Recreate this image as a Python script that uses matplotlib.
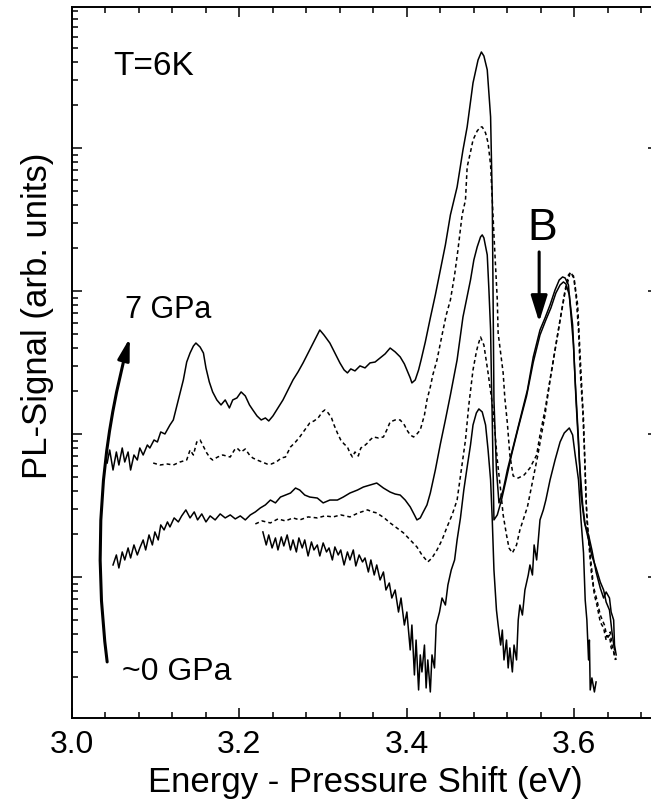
import numpy as np
import matplotlib
matplotlib.use('Agg')
import matplotlib.pyplot as plt
from matplotlib.ticker import MultipleLocator, NullFormatter, FormatStrFormatter, LogLocator

plt.rcParams['font.family'] = ['Liberation Sans', 'DejaVu Sans']

# PL spectra: energy (eV) and log10 of the PL signal (arb. units)
# trace a = 7 GPa (top, solid) ... trace e = ~0 GPa (bottom, solid)
energy_a = [3.042, 3.045, 3.049, 3.053, 3.056, 3.060, 3.063, 3.067, 3.070, 3.074,
            3.078, 3.081, 3.085, 3.090, 3.093, 3.098, 3.102, 3.106, 3.111, 3.117,
            3.121, 3.127, 3.133, 3.137, 3.141, 3.145, 3.148, 3.153, 3.157, 3.160,
            3.164, 3.168, 3.173, 3.178, 3.183, 3.188, 3.192, 3.197, 3.202, 3.207,
            3.212, 3.216, 3.221, 3.226, 3.231, 3.235, 3.240, 3.246, 3.252, 3.258,
            3.264, 3.270, 3.276, 3.282, 3.288, 3.293, 3.296, 3.301, 3.308, 3.314,
            3.320, 3.325, 3.329, 3.333, 3.338, 3.344, 3.350, 3.356, 3.362, 3.368,
            3.374, 3.380, 3.386, 3.392, 3.397, 3.400, 3.404, 3.406, 3.410, 3.414,
            3.417, 3.422, 3.428, 3.434, 3.440, 3.446, 3.452, 3.460, 3.467, 3.472,
            3.479, 3.485, 3.489, 3.492, 3.496, 3.500, 3.502, 3.503, 3.504, 3.507,
            3.510, 3.515, 3.520, 3.526, 3.535, 3.544, 3.551, 3.559, 3.565, 3.571,
            3.577, 3.582, 3.586, 3.589, 3.593, 3.595, 3.599, 3.602, 3.606, 3.610,
            3.613, 3.617, 3.621, 3.626, 3.631, 3.635, 3.638, 3.642, 3.644, 3.647,
            3.648, 3.650]
log_pl_a = [1.797, 1.888, 1.748, 1.874, 1.783, 1.902, 1.804, 1.874, 1.748, 1.853,
            1.818, 1.902, 1.853, 1.923, 1.902, 1.958, 1.944, 2.014, 2.000, 2.063,
            2.098, 2.238, 2.378, 2.503, 2.566, 2.615, 2.636, 2.608, 2.566, 2.462,
            2.364, 2.294, 2.238, 2.203, 2.238, 2.182, 2.238, 2.252, 2.294, 2.266,
            2.203, 2.168, 2.126, 2.098, 2.112, 2.091, 2.126, 2.182, 2.238, 2.308,
            2.378, 2.434, 2.497, 2.566, 2.636, 2.692, 2.727, 2.692, 2.636, 2.566,
            2.497, 2.448, 2.427, 2.455, 2.441, 2.476, 2.462, 2.497, 2.503, 2.532,
            2.560, 2.601, 2.574, 2.539, 2.490, 2.448, 2.392, 2.357, 2.378, 2.448,
            2.518, 2.643, 2.811, 2.972, 3.147, 3.322, 3.532, 3.727, 3.986, 4.147,
            4.455, 4.615, 4.671, 4.643, 4.546, 4.217, 3.636, 2.937, 2.238, 1.748,
            1.518, 1.608, 1.748, 1.888, 2.098, 2.308, 2.539, 2.727, 2.811, 2.902,
            3.007, 3.077, 3.098, 3.091, 3.042, 2.902, 2.622, 2.238, 1.818, 1.503,
            1.364, 1.294, 1.189, 1.035, 0.923, 0.853, 0.895, 0.853, 0.755, 0.699,
            0.524, 0.455]

energy_b = [3.097, 3.105, 3.114, 3.121, 3.129, 3.137, 3.141, 3.145, 3.149, 3.153,
            3.158, 3.161, 3.165, 3.168, 3.174, 3.180, 3.189, 3.194, 3.197, 3.202,
            3.207, 3.212, 3.216, 3.221, 3.227, 3.233, 3.238, 3.244, 3.250, 3.255,
            3.261, 3.267, 3.272, 3.278, 3.284, 3.289, 3.294, 3.299, 3.302, 3.306,
            3.310, 3.313, 3.317, 3.321, 3.325, 3.329, 3.332, 3.335, 3.338, 3.342,
            3.345, 3.349, 3.353, 3.356, 3.360, 3.366, 3.372, 3.376, 3.380, 3.386,
            3.392, 3.397, 3.400, 3.404, 3.408, 3.412, 3.416, 3.421, 3.424, 3.428,
            3.431, 3.436, 3.442, 3.447, 3.452, 3.457, 3.461, 3.466, 3.470, 3.472,
            3.476, 3.479, 3.484, 3.488, 3.490, 3.494, 3.497, 3.500, 3.502, 3.504,
            3.506, 3.508, 3.509, 3.512, 3.515, 3.517, 3.520, 3.523, 3.527, 3.533,
            3.540, 3.547, 3.555, 3.559, 3.565, 3.571, 3.577, 3.583, 3.589, 3.593,
            3.596, 3.600, 3.604, 3.606, 3.608, 3.611, 3.613, 3.615, 3.619, 3.623,
            3.627, 3.631, 3.636, 3.639, 3.643, 3.645, 3.648, 3.650]
log_pl_b = [1.797, 1.783, 1.790, 1.783, 1.804, 1.818, 1.888, 1.853, 1.944, 1.958,
            1.902, 1.867, 1.832, 1.818, 1.839, 1.853, 1.839, 1.888, 1.902, 1.874,
            1.895, 1.853, 1.832, 1.818, 1.804, 1.790, 1.790, 1.804, 1.832, 1.839,
            1.909, 1.944, 1.979, 2.028, 2.077, 2.091, 2.112, 2.154, 2.168, 2.147,
            2.112, 2.063, 2.007, 1.958, 1.930, 1.909, 1.867, 1.839, 1.874, 1.846,
            1.902, 1.916, 1.937, 1.958, 1.979, 1.972, 1.979, 2.028, 2.084, 2.098,
            2.098, 2.063, 2.028, 1.993, 1.979, 2.000, 2.028, 2.133, 2.238, 2.329,
            2.413, 2.518, 2.692, 2.832, 2.937, 3.112, 3.287, 3.532, 3.636, 3.867,
            3.972, 4.056, 4.119, 4.147, 4.147, 4.105, 4.035, 3.881, 3.636, 3.392,
            3.168, 2.937, 2.706, 2.566, 2.427, 2.252, 2.077, 1.853, 1.706, 1.692,
            1.713, 1.762, 1.853, 1.993, 2.168, 2.378, 2.587, 2.797, 3.007, 3.112,
            3.133, 3.077, 2.902, 2.657, 2.427, 2.098, 1.748, 1.399, 1.154, 0.930,
            0.839, 0.734, 0.664, 0.580, 0.615, 0.524, 0.455, 0.420]

energy_c = [3.049, 3.053, 3.056, 3.060, 3.063, 3.067, 3.070, 3.074, 3.078, 3.081,
            3.085, 3.088, 3.092, 3.096, 3.099, 3.103, 3.106, 3.110, 3.114, 3.117,
            3.122, 3.127, 3.131, 3.136, 3.141, 3.146, 3.150, 3.155, 3.160, 3.165,
            3.171, 3.177, 3.183, 3.189, 3.195, 3.201, 3.207, 3.213, 3.219, 3.225,
            3.231, 3.237, 3.243, 3.249, 3.255, 3.261, 3.267, 3.272, 3.278, 3.284,
            3.293, 3.300, 3.308, 3.317, 3.324, 3.332, 3.341, 3.348, 3.356, 3.364,
            3.372, 3.380, 3.386, 3.392, 3.398, 3.404, 3.409, 3.412, 3.416, 3.419,
            3.424, 3.428, 3.434, 3.440, 3.446, 3.452, 3.460, 3.467, 3.476, 3.480,
            3.484, 3.488, 3.490, 3.492, 3.496, 3.498, 3.500, 3.501, 3.502, 3.503,
            3.504, 3.508, 3.513, 3.519, 3.525, 3.533, 3.543, 3.551, 3.559, 3.566,
            3.572, 3.578, 3.583, 3.587, 3.590, 3.594, 3.598, 3.601, 3.605, 3.608,
            3.612, 3.617, 3.621, 3.626, 3.631, 3.635, 3.638, 3.642, 3.645, 3.648]
log_pl_c = [1.084, 1.154, 1.063, 1.175, 1.119, 1.203, 1.133, 1.224, 1.154, 1.203,
            1.259, 1.189, 1.294, 1.224, 1.315, 1.259, 1.364, 1.329, 1.385, 1.350,
            1.413, 1.385, 1.427, 1.469, 1.413, 1.455, 1.399, 1.441, 1.385, 1.427,
            1.399, 1.441, 1.413, 1.434, 1.406, 1.427, 1.399, 1.434, 1.455, 1.483,
            1.504, 1.538, 1.518, 1.559, 1.573, 1.587, 1.622, 1.608, 1.573, 1.559,
            1.552, 1.518, 1.538, 1.538, 1.559, 1.587, 1.608, 1.629, 1.643, 1.657,
            1.622, 1.594, 1.580, 1.573, 1.538, 1.490, 1.434, 1.399, 1.413, 1.448,
            1.504, 1.587, 1.748, 1.930, 2.098, 2.273, 2.518, 2.818, 3.077, 3.217,
            3.308, 3.378, 3.392, 3.371, 3.252, 3.007, 2.727, 2.378, 2.098, 1.748,
            1.399, 1.434, 1.538, 1.692, 1.853, 2.042, 2.266, 2.503, 2.692, 2.797,
            2.881, 2.986, 3.042, 3.063, 3.049, 2.972, 2.762, 2.378, 1.958, 1.573,
            1.385, 1.259, 1.147, 1.063, 0.965, 0.909, 0.825, 0.769, 0.615, 0.490]

energy_d = [3.219, 3.227, 3.237, 3.246, 3.255, 3.264, 3.272, 3.282, 3.293, 3.302,
            3.312, 3.321, 3.332, 3.342, 3.353, 3.359, 3.364, 3.373, 3.380, 3.388,
            3.396, 3.404, 3.412, 3.418, 3.425, 3.430, 3.436, 3.442, 3.448, 3.454,
            3.460, 3.465, 3.470, 3.474, 3.479, 3.483, 3.485, 3.488, 3.492, 3.497,
            3.503, 3.508, 3.512, 3.515, 3.519, 3.522, 3.526, 3.531, 3.535, 3.544,
            3.556, 3.565, 3.571, 3.577, 3.583, 3.589, 3.595, 3.599, 3.602, 3.605,
            3.607, 3.610, 3.612, 3.614, 3.617, 3.620, 3.624, 3.627, 3.631, 3.635,
            3.638, 3.642, 3.644, 3.647, 3.649]
log_pl_d = [1.371, 1.392, 1.378, 1.406, 1.392, 1.413, 1.399, 1.420, 1.413, 1.427,
            1.420, 1.434, 1.420, 1.448, 1.469, 1.455, 1.448, 1.413, 1.378, 1.343,
            1.308, 1.259, 1.210, 1.154, 1.105, 1.133, 1.189, 1.259, 1.350, 1.434,
            1.538, 1.748, 1.958, 2.203, 2.448, 2.574, 2.622, 2.678, 2.622, 2.427,
            2.168, 1.818, 1.608, 1.434, 1.294, 1.203, 1.168, 1.224, 1.329, 1.490,
            1.839, 2.133, 2.378, 2.587, 2.797, 2.993, 3.126, 3.105, 2.972, 2.727,
            2.448, 2.168, 1.888, 1.538, 1.259, 1.049, 0.874, 0.804, 0.685, 0.643,
            0.559, 0.594, 0.504, 0.476, 0.420]

energy_e = [3.228, 3.232, 3.235, 3.239, 3.243, 3.246, 3.250, 3.253, 3.257, 3.261,
            3.264, 3.268, 3.271, 3.275, 3.278, 3.282, 3.286, 3.289, 3.293, 3.296,
            3.300, 3.304, 3.307, 3.311, 3.314, 3.318, 3.321, 3.325, 3.329, 3.332,
            3.336, 3.339, 3.343, 3.347, 3.350, 3.354, 3.357, 3.361, 3.364, 3.368,
            3.372, 3.375, 3.379, 3.382, 3.386, 3.390, 3.393, 3.397, 3.400, 3.404,
            3.406, 3.409, 3.411, 3.414, 3.416, 3.418, 3.421, 3.423, 3.425, 3.428,
            3.430, 3.433, 3.435, 3.439, 3.442, 3.446, 3.449, 3.453, 3.457, 3.460,
            3.464, 3.468, 3.472, 3.476, 3.479, 3.483, 3.486, 3.490, 3.494, 3.497,
            3.500, 3.502, 3.504, 3.507, 3.509, 3.512, 3.514, 3.516, 3.519, 3.521,
            3.523, 3.526, 3.528, 3.531, 3.533, 3.535, 3.538, 3.541, 3.545, 3.547,
            3.550, 3.552, 3.555, 3.557, 3.559, 3.563, 3.566, 3.571, 3.577, 3.583,
            3.588, 3.594, 3.598, 3.601, 3.605, 3.608, 3.611, 3.613, 3.615, 3.617,
            3.618, 3.619, 3.621, 3.624, 3.626]
log_pl_e = [1.315, 1.224, 1.294, 1.203, 1.273, 1.189, 1.280, 1.217, 1.294, 1.189,
            1.259, 1.175, 1.273, 1.203, 1.259, 1.147, 1.245, 1.189, 1.224, 1.147,
            1.238, 1.175, 1.203, 1.119, 1.210, 1.154, 1.189, 1.084, 1.175, 1.119,
            1.189, 1.077, 1.154, 1.105, 1.133, 1.035, 1.119, 1.014, 1.084, 0.979,
            1.035, 0.909, 0.958, 0.853, 0.909, 0.755, 0.853, 0.664, 0.755, 0.490,
            0.664, 0.315, 0.559, 0.210, 0.455, 0.336, 0.524, 0.224, 0.420, 0.196,
            0.455, 0.364, 0.664, 0.755, 0.853, 0.804, 0.944, 1.049, 1.119, 1.259,
            1.413, 1.608, 1.769, 1.923, 2.063, 2.147, 2.175, 2.154, 2.063, 1.888,
            1.678, 1.399, 1.049, 0.769, 0.664, 0.524, 0.629, 0.420, 0.559, 0.364,
            0.504, 0.336, 0.524, 0.420, 0.699, 0.804, 0.734, 0.909, 1.014, 1.084,
            1.014, 1.224, 1.119, 1.259, 1.399, 1.469, 1.538, 1.678, 1.818, 1.944,
            2.007, 2.042, 1.993, 1.853, 1.678, 1.399, 1.168, 0.839, 0.699, 0.420,
            0.559, 0.210, 0.294, 0.196, 0.266]

fig = plt.figure(figsize=(6.51, 8.09), dpi=100)
ax = fig.add_axes([0.1106, 0.1125, 0.9002, 0.8789])

solid = dict(color='black', lw=1.1)
dashed = dict(color='black', lw=1.1, ls=(0, (2.5, 2)))
ax.plot(energy_a, 10 ** np.array(log_pl_a), **solid)
ax.plot(energy_b, 10 ** np.array(log_pl_b), **dashed)
ax.plot(energy_c, 10 ** np.array(log_pl_c), **solid)
ax.plot(energy_d, 10 ** np.array(log_pl_d), **dashed)
ax.plot(energy_e, 10 ** np.array(log_pl_e), **solid)

ax.set_yscale('log')
ax.set_xlim(3.0, 3.7)
ax.set_ylim(10 ** 0.014, 10 ** 4.986)

ax.xaxis.set_major_locator(MultipleLocator(0.2))
ax.xaxis.set_minor_locator(MultipleLocator(0.04))
ax.xaxis.set_major_formatter(FormatStrFormatter('%.1f'))
ax.yaxis.set_minor_locator(LogLocator(base=10, subs=np.arange(2, 10), numticks=50))
ax.yaxis.set_major_formatter(NullFormatter())
ax.yaxis.set_minor_formatter(NullFormatter())
ax.tick_params(which='both', direction='in', top=True, right=True, width=1.1)
ax.tick_params(which='major', length=7.5, labelsize=23, pad=9)
ax.tick_params(which='minor', length=4.5)
for s in ax.spines.values():
    s.set_linewidth(1.4)

ax.set_xlabel('Energy - Pressure Shift (eV)', fontsize=25, labelpad=4)
ax.set_ylabel('PL-Signal (arb. units)', fontsize=25)
ax.yaxis.set_label_coords(-0.03, 0.565)

ax.text(3.049, 10 ** 4.511, 'T=6K', fontsize=24, va='baseline')
ax.text(3.063, 10 ** 2.811, '7 GPa', fontsize=22, va='baseline')
ax.text(3.060, 10 ** 0.280, '~0 GPa', fontsize=23, va='baseline')
ax.text(3.544, 10 ** 3.357, 'B', fontsize=32, va='baseline')

# pressure arrow and marker for peak B
ax.annotate('', xy=(3.069, 10 ** 2.671), xytext=(3.042, 10 ** 0.406),
            arrowprops=dict(arrowstyle='-|>,head_length=1.3,head_width=0.35',
                            connectionstyle='arc3,rad=-0.1', color='black',
                            lw=2.2, mutation_scale=10, shrinkA=0, shrinkB=0))
ax.annotate('', xy=(3.558, 10 ** 2.783), xytext=(3.558, 10 ** 3.273),
            arrowprops=dict(arrowstyle='-|>,head_length=1.6,head_width=0.5',
                            color='black', lw=2.2, mutation_scale=10,
                            shrinkA=0, shrinkB=0))

fig.savefig('out.png', dpi=100)
